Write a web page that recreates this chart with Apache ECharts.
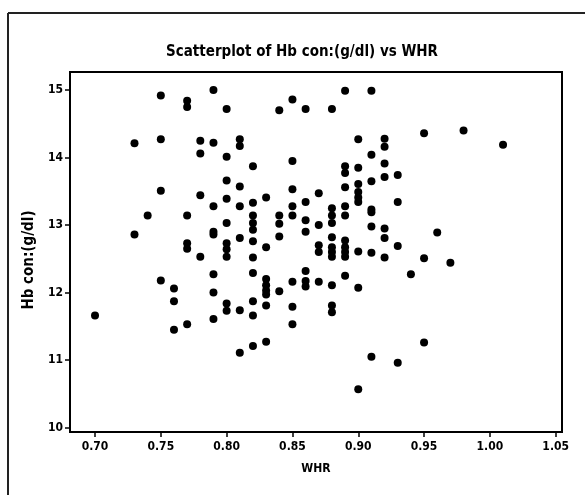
<!DOCTYPE html>
<html>
<head>
<meta charset="utf-8">
<script src="https://cdn.jsdelivr.net/npm/echarts@6/dist/echarts.min.js"></script>
<style>html,body{margin:0;padding:0;background:#fff;}#c{width:585px;height:495px;}</style>
</head>
<body>
<div id="c"></div>
<script>
const title = "Scatterplot of Hb con:(g/dl) vs WHR";
const xName = "WHR";
const yName = "Hb con:(g/dl)";
const xTicks = [0.70, 0.75, 0.80, 0.85, 0.90, 0.95, 1.00, 1.05];
const yTicks = [10, 11, 12, 13, 14, 15];
// WHR values and matching Hb values (parallel arrays)
const whr = [
  0.70,
  0.73, 0.73,
  0.74,
  0.75, 0.75, 0.75, 0.75,
  0.76, 0.76, 0.76,
  0.77, 0.77, 0.77, 0.77, 0.77, 0.77,
  0.78, 0.78, 0.78, 0.78,
  0.79, 0.79, 0.79, 0.79, 0.79, 0.79, 0.79, 0.79,
  0.80, 0.80, 0.80, 0.80, 0.80, 0.80, 0.80, 0.80, 0.80, 0.80,
  0.81, 0.81, 0.81, 0.81, 0.81, 0.81, 0.81,
  0.82, 0.82, 0.82, 0.82, 0.82, 0.82, 0.82, 0.82, 0.82, 0.82, 0.82,
  0.83, 0.83, 0.83, 0.83, 0.83, 0.83, 0.83, 0.83,
  0.84, 0.84, 0.84, 0.84, 0.84,
  0.85, 0.85, 0.85, 0.85, 0.85, 0.85, 0.85, 0.85,
  0.86, 0.86, 0.86, 0.86, 0.86, 0.86, 0.86,
  0.87, 0.87, 0.87, 0.87, 0.87,
  0.88, 0.88, 0.88, 0.88, 0.88, 0.88, 0.88, 0.88, 0.88, 0.88, 0.88,
  0.89, 0.89, 0.89, 0.89, 0.89, 0.89, 0.89, 0.89, 0.89, 0.89, 0.89,
  0.90, 0.90, 0.90, 0.90, 0.90, 0.90, 0.90, 0.90, 0.90,
  0.91, 0.91, 0.91, 0.91, 0.91, 0.91, 0.91, 0.91,
  0.92, 0.92, 0.92, 0.92, 0.92, 0.92, 0.92,
  0.93, 0.93, 0.93, 0.93,
  0.94,
  0.95, 0.95, 0.95,
  0.96,
  0.97,
  0.98,
  1.01
];
const hb = [
  11.66,
  14.21, 12.86,
  13.14,
  14.92, 14.27, 13.51, 12.18,
  12.06, 11.87, 11.45,
  14.84, 14.75, 13.14, 12.73, 12.65, 11.53,
  14.25, 14.06, 13.44, 12.53,
  15.00, 14.22, 13.28, 12.90, 12.86, 12.27, 12.00, 11.61,
  14.72, 14.01, 13.66, 13.39, 13.03, 12.73, 12.64, 12.53, 11.84, 11.73,
  14.27, 14.17, 13.57, 13.28, 12.81, 11.74, 11.11,
  13.87, 13.33, 13.14, 13.03, 12.93, 12.76, 12.52, 12.29, 11.87, 11.66, 11.21,
  13.41, 12.67, 12.20, 12.11, 12.03, 11.97, 11.81, 11.27,
  14.70, 13.14, 13.02, 12.83, 12.02,
  14.86, 13.95, 13.53, 13.28, 13.14, 12.16, 11.79, 11.53,
  14.72, 13.34, 13.07, 12.90, 12.32, 12.17, 12.09,
  13.47, 13.00, 12.70, 12.60, 12.16,
  14.72, 13.25, 13.14, 13.03, 12.82, 12.67, 12.60, 12.53, 12.11, 11.81, 11.71,
  14.99, 13.87, 13.77, 13.56, 13.28, 13.14, 12.77, 12.67, 12.60, 12.53, 12.25,
  14.27, 13.85, 13.61, 13.49, 13.41, 13.34, 12.61, 12.07, 10.57,
  14.99, 14.04, 13.65, 13.23, 13.19, 12.98, 12.59, 11.05,
  14.28, 14.16, 13.91, 13.71, 12.95, 12.81, 12.52,
  13.74, 13.34, 12.69, 10.96,
  12.27,
  14.36, 12.51, 11.26,
  12.89,
  12.44,
  14.40,
  14.19
];
const points = whr.map((x, i) => [x, hb[i]]);

const chart = echarts.init(document.getElementById('c'), null, {renderer: 'canvas'});
const fam = "'DejaVu Sans Condensed', 'Liberation Sans Narrow', sans-serif";
chart.setOption({
  animation: false,
  backgroundColor: '#ffffff',
  title: {
    text: title,
    left: 297, top: 40, textAlign: 'center',
    textStyle: {fontFamily: fam, fontWeight: 'bold', fontSize: 15, color: '#000'}
  },
  graphic: [
    {type: 'line', shape: {x1: 8, y1: 13, x2: 585, y2: 13}, style: {stroke: '#222', lineWidth: 2}},
    {type: 'line', shape: {x1: 8, y1: 13, x2: 8, y2: 495}, style: {stroke: '#222', lineWidth: 2}}
  ],
  grid: {left: 70, top: 72, right: 23, bottom: 63, show: true, borderColor: '#000', borderWidth: 2, backgroundColor: '#fff'},
  xAxis: {
    type: 'value', min: 0.681, max: 1.0548,
    name: xName, nameLocation: 'middle', nameGap: 31,
    nameTextStyle: {fontFamily: fam, fontWeight: 'bold', fontSize: 12, color: '#000'},
    splitLine: {show: false},
    axisLine: {show: true, lineStyle: {color: '#000', width: 2}},
    axisTick: {show: true, length: 5, customValues: xTicks, lineStyle: {color: '#000', width: 1.5}},
    axisLabel: {customValues: xTicks, formatter: v => v.toFixed(2), margin: 9,
      fontFamily: fam, fontWeight: 'bold', fontSize: 12, color: '#000'}
  },
  yAxis: {
    type: 'value', min: 9.935, max: 15.267,
    name: yName, nameLocation: 'middle', nameGap: 31, nameRotate: 90,
    nameTextStyle: {fontFamily: fam, fontWeight: 'bold', fontSize: 15, color: '#000', padding: [0, 16, 0, 0]},
    splitLine: {show: false},
    axisLine: {show: true, lineStyle: {color: '#000', width: 2}},
    axisTick: {show: true, length: 5, customValues: yTicks, lineStyle: {color: '#000', width: 1.5}},
    axisLabel: {customValues: yTicks, margin: 7,
      fontFamily: fam, fontWeight: 'bold', fontSize: 12, color: '#000'}
  },
  series: [{
    type: 'scatter',
    data: points,
    symbol: 'circle',
    symbolSize: 8,
    itemStyle: {color: '#000', opacity: 1}
  }]
});
</script>
</body>
</html>
